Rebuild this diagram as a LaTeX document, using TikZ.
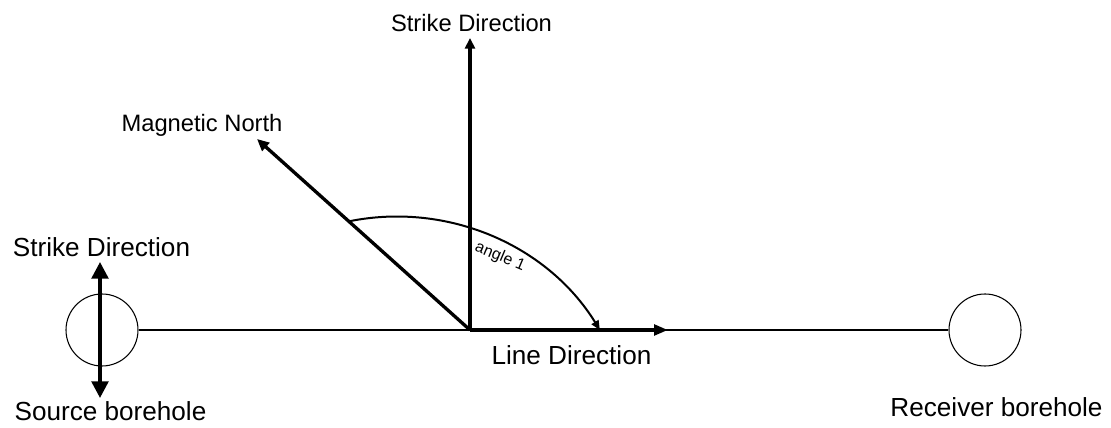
\documentclass[tikz,border=0pt]{standalone}
\usepackage{fontspec}
\setmainfont{Liberation Sans}
\usetikzlibrary{arrows.meta}
\begin{document}
\begin{tikzpicture}[x=0.75pt,y=0.75pt,
  lbl/.style={anchor=base,inner sep=0pt,font=\fontsize{19.6}{22}\selectfont},
  toplbl/.style={anchor=base,inner sep=0pt,font=\fontsize{17.8}{20}\selectfont},
  hole/.style={circle,draw,line width=0.8pt,minimum size=54pt,inner sep=0pt},
  vec/.style={line width=2.5pt},
  thin line/.style={line width=0.8pt}]
\useasboundingbox (0,0) rectangle (1111,428);
% boreholes
\node[hole] (src) at (102,98) {};
\node[hole] (rcv) at (985,98) {};
\draw[thin line] (src.east) -- (rcv.west);
% vectors
\coordinate (O) at (470,98);
\coordinate (strikeTip) at (470,390);
\coordinate (northTip) at (257,289);
\coordinate (lineTip) at (668,98);
\draw[vec,-{Triangle[length=8pt,width=7.5pt]}] (O) -- (strikeTip);
\draw[vec,-{Triangle[length=9pt,width=8pt]}] (O) -- (northTip);
\draw[vec,-{Triangle[length=10.5pt,width=8pt]}] (O) -- (lineTip);
% angle arc
\coordinate (arcStart) at (350.1,206.9);
\draw[line width=1.5pt,-{Triangle[length=7pt,width=6pt]}] (arcStart) arc[start angle=101.2,end angle=31.7,radius=239];
\node[inner sep=0pt,rotate=-23,font=\fontsize{12}{14}\selectfont] (ang) at (500,171) {angle 1};
% left strike double arrow
\coordinate (lsTop) at (100,166);
\coordinate (lsBot) at (100,30);
\draw[line width=2.6pt,{Triangle[length=12.5pt,width=12.5pt]}-{Triangle[length=12.5pt,width=12.5pt]}] (lsBot) -- (lsTop);
% labels
\node[toplbl] (tStrike) at (471.5,396) {Strike Direction};
\node[toplbl] (tNorth) at (202,296) {Magnetic North};
\node[lbl] (lStrike) at (101.5,171) {Strike Direction};
\node[lbl] (tLine) at (571.5,63) {Line Direction};
\node[lbl] (tSrc) at (110.5,7) {Source borehole};
\node[lbl] (tRcv) at (996.5,11) {Receiver borehole};
\end{tikzpicture}
\end{document}
